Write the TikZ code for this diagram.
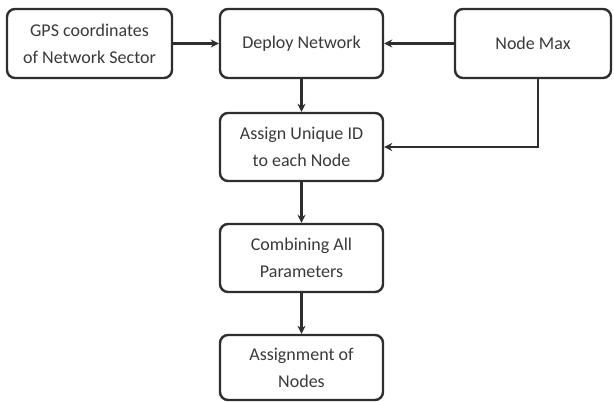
\documentclass[tikz,border=0pt]{standalone}
\usepackage{fontspec}
\setmainfont{Carlito}
\usetikzlibrary{arrows.meta}
\definecolor{ink}{HTML}{2E2E2E}
\definecolor{txt}{HTML}{3A3A3A}
\begin{document}
\begin{tikzpicture}[x=1pt,y=1pt,
  box/.style={draw=ink, line width=2.4pt, rounded corners=8pt, fill=white,
    align=center, text=txt, inner sep=0pt,
    font=\fontsize{18}{27}\selectfont},
  conn/.style={draw=ink, line width=2.4pt, -{Stealth[length=8pt,width=8pt]}}]
\useasboundingbox (0,0) rectangle (614,-402);
\node[box, minimum width=165pt, minimum height=69pt] (gps) at (89.5,-43.5) {GPS coordinates\\of Network Sector};
\node[box, minimum width=163pt, minimum height=69pt] (deploy) at (301.5,-43.5) {Deploy Network};
\node[box, minimum width=156pt, minimum height=69pt] (nmax) at (533,-43.5) {Node Max};
\node[box, minimum width=163pt, minimum height=68pt] (assign) at (301.5,-147) {Assign Unique ID\\to each Node};
\node[box, minimum width=163pt, minimum height=68pt] (comb) at (301.5,-258) {Combining All\\Parameters};
\node[box, minimum width=163pt, minimum height=65pt] (asn) at (301.5,-367.5) {Assignment of\\Nodes};
\draw[conn] (gps) -- (deploy);
\draw[conn] (nmax) -- (deploy);
\draw[conn] (deploy) -- (assign);
\draw[conn] ([xshift=5pt]nmax.south) |- (assign.east);
\draw[conn] (assign) -- (comb);
\draw[conn] (comb) -- (asn);
\end{tikzpicture}
\end{document}
